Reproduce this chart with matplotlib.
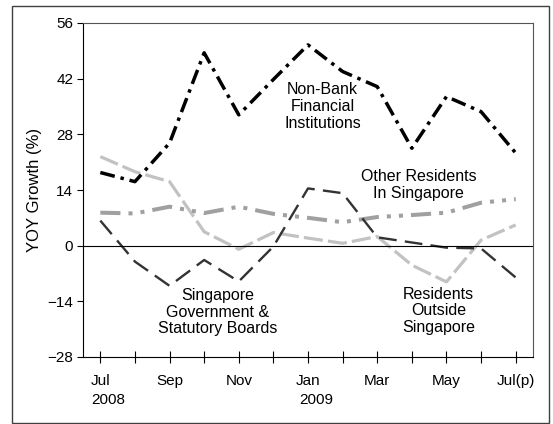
import matplotlib
matplotlib.use("Agg")
import matplotlib.pyplot as plt
from matplotlib.patches import Rectangle

plt.rcParams["font.family"] = ["Liberation Sans", "DejaVu Sans"]

months = ["Jul", "Aug", "Sep", "Oct", "Nov", "Dec", "Jan",
          "Feb", "Mar", "Apr", "May", "Jun", "Jul(p)"]
tick_labels = ["Jul", "", "Sep", "", "Nov", "", "Jan", "", "Mar", "", "May", "", "Jul(p)"]
years = {0: "2008", 6: "2009"}

non_bank = [18.4, 16.1, 25.8, 48.5, 32.9, 41.8, 50.5, 43.8, 40.0, 24.5, 37.5, 33.7, 23.3]
other_res = [8.3, 8.1, 9.8, 8.2, 9.8, 8.0, 7.0, 5.9, 7.2, 7.7, 8.3, 10.8, 11.7]
res_outside = [22.4, 18.6, 16.1, 3.5, -0.9, 3.3, 1.9, 0.6, 2.3, -4.9, -9.1, 1.4, 5.2]
sg_govt = [6.3, -4.0, -10.1, -3.6, -9.0, -0.2, 14.4, 13.2, 2.1, 0.8, -0.5, -0.7, -8.0]

fig = plt.figure(figsize=(5.53, 4.24), dpi=100)
ax = fig.add_axes([83 / 553, 1 - 357 / 424, 450 / 553, 334 / 424])

x = list(range(len(months)))

# lighter series first, dark ones on top
ax.plot(x, res_outside, color="#c2c2c2", lw=2.3, dashes=(6, 1.6))
ax.plot(x, other_res, color="#a0a0a0", lw=2.9, dashes=(5, 2, 1, 2, 1, 2))
ax.plot(x, sg_govt, color="#333333", lw=1.7, dashes=(7.5, 3.5))
ax.plot(x, non_bank, color="black", lw=2.5, dashes=(4.3, 1.7, 1, 1.7))

ax.axhline(0, color="black", lw=0.8)

ax.set_xlim(-0.5, len(months) - 0.5)
ax.set_ylim(-28, 56)
ax.set_yticks(range(-28, 57, 14))
ax.set_xticks(x)
ax.set_xticklabels(tick_labels)
ax.tick_params(axis="x", direction="inout", length=8, width=0.8, labelsize=11, pad=8)
ax.tick_params(axis="y", direction="out", length=4, width=0.8, labelsize=11, pad=3)

for i, yr in years.items():
    ax.text(i - 0.26, -0.13, yr, transform=ax.get_xaxis_transform(),
            ha="left", va="center", fontsize=11)

ax.set_ylabel("YOY Growth (%)", fontsize=12)
ax.yaxis.set_label_coords(-0.091, 0.5)

for s in ["top", "right"]:
    ax.spines[s].set_color("#555555")
    ax.spines[s].set_linewidth(0.8)
for s in ["left", "bottom"]:
    ax.spines[s].set_color("black")
    ax.spines[s].set_linewidth(0.8)

ax.text(6.42, 35.0, "Non-Bank\nFinancial\nInstitutions", ha="center", va="center",
        fontsize=11.5, linespacing=1.15)
ax.text(9.19, 15.3, "Other Residents\nIn Singapore", ha="center", va="center",
        fontsize=11.5, linespacing=1.15)
ax.text(3.38, -16.7, "Singapore\nGovernment &\nStatutory Boards", ha="center", va="center",
        fontsize=11.5, linespacing=1.15)
ax.text(9.77, -16.4, "Residents\nOutside\nSingapore", ha="center", va="center",
        fontsize=11.5, linespacing=1.15)

fig.patches.append(Rectangle((12 / 553, 1 - 423 / 424), 537 / 553, 417 / 424,
                             transform=fig.transFigure, fill=False,
                             edgecolor="#404040", lw=1.0))

fig.savefig("out.png", dpi=100)
